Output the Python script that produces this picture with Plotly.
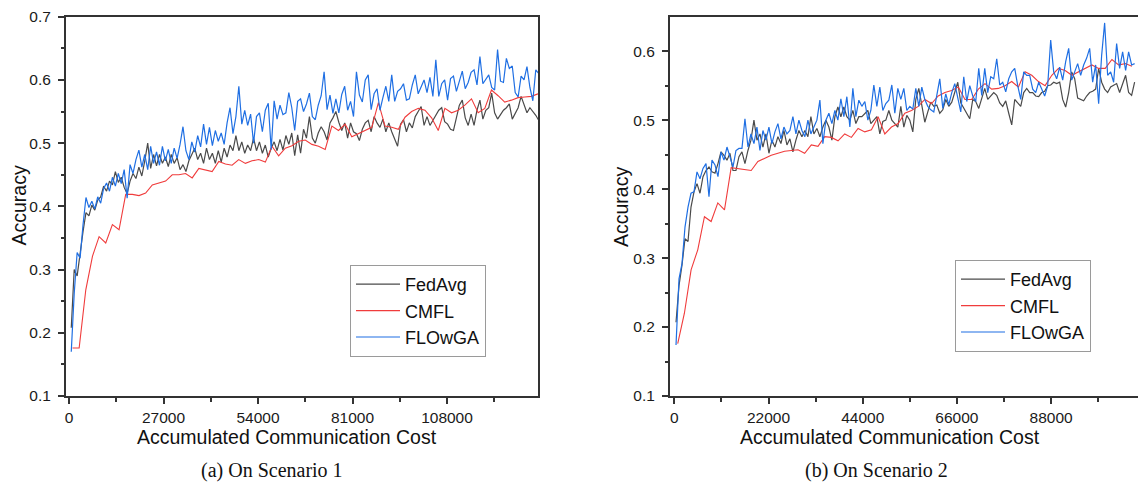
import plotly.graph_objects as go
import numpy as np

W, H = 1138, 487

# ---------------- Scenario 1 data ----------------
s1_step = 840
s1_start = 650
s1_fedavg = [
    0.208, 0.300, 0.290, 0.330, 0.360, 0.390, 0.385, 0.402, 0.394, 0.410,
    0.415, 0.432, 0.424, 0.440, 0.434, 0.455, 0.438, 0.446, 0.430, 0.420,
    0.440, 0.452, 0.444, 0.462, 0.448, 0.472, 0.500, 0.460, 0.482, 0.464,
    0.482, 0.468, 0.478, 0.463, 0.482, 0.468, 0.477, 0.458, 0.466, 0.455,
    0.472, 0.482, 0.492, 0.474, 0.484, 0.468, 0.492, 0.474, 0.484, 0.468,
    0.488, 0.470, 0.492, 0.478, 0.497, 0.488, 0.512, 0.488, 0.502, 0.484,
    0.497, 0.488, 0.508, 0.488, 0.502, 0.484, 0.497, 0.478, 0.492, 0.502,
    0.488, 0.506, 0.489, 0.512, 0.498, 0.516, 0.480, 0.513, 0.484, 0.522,
    0.508, 0.542, 0.508, 0.500, 0.516, 0.526, 0.518, 0.505, 0.532, 0.540,
    0.550, 0.533, 0.520, 0.532, 0.508, 0.532, 0.518, 0.515, 0.504, 0.522,
    0.532, 0.536, 0.518, 0.542, 0.532, 0.525, 0.538, 0.518, 0.532, 0.518,
    0.506, 0.495, 0.530, 0.537, 0.518, 0.532, 0.524, 0.542, 0.550, 0.558,
    0.528, 0.542, 0.528, 0.536, 0.546, 0.552, 0.556, 0.534, 0.530, 0.522,
    0.520, 0.542, 0.560, 0.568, 0.540, 0.528, 0.546, 0.528, 0.552, 0.568,
    0.538, 0.552, 0.556, 0.579, 0.548, 0.538, 0.546, 0.552, 0.556, 0.562,
    0.538, 0.546, 0.556, 0.574, 0.560, 0.548, 0.556, 0.550, 0.544, 0.536,
]
s1_flowga = [
    0.170, 0.262, 0.327, 0.318, 0.371, 0.414, 0.398, 0.408, 0.396, 0.415,
    0.405, 0.428, 0.437, 0.424, 0.446, 0.432, 0.452, 0.436, 0.458, 0.413,
    0.466, 0.452, 0.474, 0.489, 0.462, 0.482, 0.458, 0.495, 0.468, 0.486,
    0.465, 0.495, 0.472, 0.490, 0.468, 0.492, 0.476, 0.498, 0.526, 0.488,
    0.474, 0.502, 0.486, 0.512, 0.494, 0.530, 0.498, 0.525, 0.496, 0.520,
    0.503, 0.516, 0.498, 0.532, 0.556, 0.515, 0.542, 0.590, 0.530, 0.552,
    0.528, 0.546, 0.500, 0.542, 0.548, 0.518, 0.552, 0.563, 0.490, 0.567,
    0.538, 0.560, 0.545, 0.548, 0.580, 0.556, 0.520, 0.566, 0.570, 0.550,
    0.562, 0.579, 0.542, 0.537, 0.560, 0.575, 0.613, 0.553, 0.576, 0.547,
    0.570, 0.548, 0.577, 0.590, 0.552, 0.566, 0.542, 0.613, 0.576, 0.565,
    0.600, 0.608, 0.553, 0.578, 0.586, 0.552, 0.572, 0.590, 0.566, 0.608,
    0.566, 0.582, 0.586, 0.594, 0.568, 0.570, 0.592, 0.608, 0.578, 0.590,
    0.600, 0.580, 0.604, 0.574, 0.632, 0.574, 0.594, 0.600, 0.568, 0.602,
    0.606, 0.582, 0.600, 0.614, 0.586, 0.596, 0.612, 0.616, 0.592, 0.637,
    0.594, 0.602, 0.608, 0.588, 0.584, 0.648, 0.598, 0.596, 0.634, 0.618,
    0.622, 0.580, 0.573, 0.606, 0.600, 0.621, 0.588, 0.567, 0.616, 0.610,
]
s1_cmfl_step = 1900
s1_cmfl_start = 1000
s1_cmfl = [
    0.176, 0.176, 0.268, 0.321, 0.352, 0.342, 0.371, 0.363, 0.419, 0.419,
    0.417, 0.421, 0.434, 0.437, 0.440, 0.450, 0.450, 0.452, 0.445, 0.460,
    0.457, 0.455, 0.471, 0.467, 0.465, 0.474, 0.468, 0.472, 0.474, 0.470,
    0.495, 0.480, 0.492, 0.496, 0.503, 0.505, 0.498, 0.495, 0.490, 0.527,
    0.520, 0.530, 0.510, 0.515, 0.520, 0.525, 0.564, 0.527, 0.525, 0.522,
    0.541, 0.550, 0.555, 0.552, 0.540, 0.520, 0.555, 0.548, 0.552, 0.560,
    0.570, 0.548, 0.555, 0.584, 0.575, 0.565, 0.568, 0.572, 0.573, 0.574,
    0.578,
]

# ---------------- Scenario 2 data ----------------
s2_step = 700
s2_start = 400
s2_fedavg = [
    0.207, 0.260, 0.290, 0.328, 0.324, 0.374, 0.396, 0.408, 0.394, 0.418,
    0.427, 0.432, 0.425, 0.423, 0.437, 0.454, 0.449, 0.442, 0.452, 0.427,
    0.427, 0.447, 0.454, 0.437, 0.456, 0.471, 0.500, 0.471, 0.480, 0.461,
    0.480, 0.452, 0.471, 0.461, 0.476, 0.466, 0.485, 0.464, 0.473, 0.454,
    0.471, 0.485, 0.476, 0.485, 0.476, 0.505, 0.480, 0.488, 0.476, 0.490,
    0.500, 0.490, 0.471, 0.505, 0.519, 0.505, 0.519, 0.505, 0.500, 0.514,
    0.495, 0.505, 0.505, 0.510, 0.514, 0.495, 0.500, 0.505, 0.480, 0.498,
    0.500, 0.514, 0.500, 0.495, 0.490, 0.520, 0.490, 0.507, 0.500, 0.483,
    0.530, 0.546, 0.520, 0.497, 0.512, 0.526, 0.520, 0.522, 0.510, 0.515,
    0.530, 0.520, 0.526, 0.540, 0.555, 0.525, 0.517, 0.510, 0.502, 0.530,
    0.527, 0.517, 0.530, 0.546, 0.530, 0.535, 0.540, 0.536, 0.525, 0.520,
    0.528, 0.510, 0.493, 0.530, 0.525, 0.520, 0.540, 0.546, 0.540, 0.540,
    0.535, 0.534, 0.540, 0.542, 0.550, 0.551, 0.555, 0.553, 0.555, 0.530,
    0.519, 0.540, 0.570, 0.560, 0.532, 0.530, 0.528, 0.535, 0.540, 0.542,
    0.545, 0.575, 0.555, 0.545, 0.540, 0.548, 0.550, 0.553, 0.540, 0.552,
    0.565, 0.540, 0.536, 0.555,
]
s2_flowga = [
    0.174, 0.270, 0.292, 0.345, 0.374, 0.394, 0.396, 0.425, 0.415, 0.430,
    0.437, 0.389, 0.442, 0.435, 0.418, 0.454, 0.442, 0.461, 0.447, 0.432,
    0.456, 0.459, 0.459, 0.502, 0.461, 0.480, 0.466, 0.490, 0.456, 0.485,
    0.471, 0.490, 0.466, 0.483, 0.495, 0.473, 0.490, 0.480, 0.485, 0.505,
    0.480, 0.500, 0.485, 0.476, 0.500, 0.480, 0.490, 0.500, 0.529, 0.466,
    0.500, 0.510, 0.495, 0.514, 0.500, 0.531, 0.505, 0.534, 0.490, 0.546,
    0.505, 0.529, 0.520, 0.527, 0.500, 0.514, 0.551, 0.520, 0.548, 0.514,
    0.524, 0.529, 0.551, 0.510, 0.546, 0.530, 0.546, 0.514, 0.520, 0.516,
    0.546, 0.520, 0.548, 0.530, 0.520, 0.515, 0.512, 0.536, 0.560, 0.517,
    0.538, 0.522, 0.540, 0.553, 0.530, 0.512, 0.563, 0.527, 0.550, 0.535,
    0.527, 0.575, 0.536, 0.575, 0.540, 0.563, 0.560, 0.589, 0.551, 0.555,
    0.541, 0.560, 0.570, 0.575, 0.550, 0.530, 0.570, 0.565, 0.565, 0.545,
    0.540, 0.555, 0.545, 0.535, 0.550, 0.616, 0.570, 0.560, 0.577, 0.558,
    0.585, 0.604, 0.558, 0.570, 0.582, 0.565, 0.580, 0.590, 0.604, 0.555,
    0.580, 0.524, 0.594, 0.641, 0.565, 0.570, 0.555, 0.611, 0.575, 0.599,
    0.572, 0.599, 0.580, 0.582,
]
s2_cmfl_step = 1560
s2_cmfl_start = 800
s2_cmfl = [
    0.176, 0.220, 0.283, 0.312, 0.360, 0.353, 0.380, 0.370, 0.431, 0.430,
    0.429, 0.427, 0.440, 0.445, 0.449, 0.452, 0.455, 0.456, 0.457, 0.452,
    0.464, 0.462, 0.476, 0.475, 0.470, 0.480, 0.475, 0.488, 0.483, 0.486,
    0.505, 0.480, 0.490, 0.495, 0.510, 0.514, 0.520, 0.530, 0.524, 0.535,
    0.540, 0.543, 0.548, 0.530, 0.530, 0.545, 0.553, 0.545, 0.546, 0.550,
    0.556, 0.548, 0.570, 0.565, 0.556, 0.550, 0.565, 0.575, 0.572, 0.565,
    0.570, 0.575, 0.580, 0.575, 0.575, 0.588, 0.580, 0.582, 0.578,
]

s1_xticks = [0, 27000, 54000, 81000, 108000]
s2_xticks = [0, 22000, 44000, 66000, 88000]
yticks = [0.1, 0.2, 0.3, 0.4, 0.5, 0.6, 0.7]

names = ["FedAvg", "CMFL", "FLOwGA"]
colors = {"FedAvg": "#4a4a4a", "CMFL": "#f03c3c", "FLOwGA": "#1f6fe3"}


def xs(start, step, n):
    return [start + step * k for k in range(n)]


FONT = "Liberation Sans, Arial, sans-serif"
SERIF = "Liberation Serif, Times New Roman, serif"

fig = go.Figure()

series = [
    ("x", "y", "legend", s1_fedavg, s1_cmfl, s1_flowga,
     (s1_start, s1_step), (s1_cmfl_start, s1_cmfl_step)),
    ("x2", "y2", "legend2", s2_fedavg, s2_cmfl, s2_flowga,
     (s2_start, s2_step), (s2_cmfl_start, s2_cmfl_step)),
]
for xa, ya, lg, fa, cm, fl, (st, sp), (cst, csp) in series:
    fig.add_trace(go.Scatter(x=xs(st, sp, len(fa)), y=fa, mode="lines", name="FedAvg",
                             line=dict(color=colors["FedAvg"], width=1.2),
                             xaxis=xa, yaxis=ya, legend=lg))
    fig.add_trace(go.Scatter(x=xs(cst, csp, len(cm)), y=cm, mode="lines", name="CMFL",
                             line=dict(color=colors["CMFL"], width=1.1),
                             xaxis=xa, yaxis=ya, legend=lg))
    fig.add_trace(go.Scatter(x=xs(st, sp, len(fl)), y=fl, mode="lines", name="FLOwGA",
                             line=dict(color=colors["FLOwGA"], width=1.2),
                             xaxis=xa, yaxis=ya, legend=lg))

AX = "#333333"
common_axis = dict(showline=True, linecolor=AX, linewidth=2, ticks="outside",
                   ticklen=6, tickwidth=1.5, tickcolor=AX, showgrid=False,
                   zeroline=False, automargin=False,
                   tickfont=dict(family=FONT, size=15.5, color="#1a1a1a"))

ytop = 1 - 16.7 / H
ybot = 1 - 396 / H

legend_style = dict(xanchor="left", yanchor="top", bgcolor="white",
                    bordercolor="#9a9a9a", borderwidth=1, itemwidth=44,
                    font=dict(family=FONT, size=18, color="#111"), tracegroupgap=0)

fig.update_layout(
    width=W, height=H, autosize=False,
    margin=dict(l=0, r=0, t=0, b=0),
    paper_bgcolor="white", plot_bgcolor="white",
    font=dict(family=FONT),
    xaxis=dict(domain=[66 / W, 538 / W], anchor="y", range=[-857, 134000],
               tickvals=s1_xticks, ticktext=[str(v) for v in s1_xticks], mirror=True,
               minor=dict(tickvals=[13500, 40500, 67500, 94500, 121500], ticklen=3.5,
                          tickwidth=1.5, tickcolor=AX, ticks="outside"),
               **common_axis),
    yaxis=dict(domain=[ybot, ytop], anchor="x", range=[0.1, 0.7],
               tickvals=yticks, ticktext=["0.1", "0.2", "0.3", "0.4", "0.5", "0.6", "0.7"],
               mirror=True, ticklabelstandoff=4,
               minor=dict(tickvals=[0.15, 0.25, 0.35, 0.45, 0.55, 0.65], ticklen=3.5,
                          tickwidth=1.5, tickcolor=AX, ticks="outside"),
               **common_axis),
    xaxis2=dict(domain=[670 / W, 1.0], anchor="y2", range=[-1004, 108290],
                tickvals=s2_xticks, ticktext=[str(v) for v in s2_xticks], mirror=True,
                minor=dict(tickvals=[11000, 33000, 55000, 77000, 99000], ticklen=3.5,
                           tickwidth=1.5, tickcolor=AX, ticks="outside"),
                **common_axis),
    yaxis2=dict(domain=[ybot, ytop], anchor="x2", range=[0.1, 0.65],
                tickvals=yticks[:6], ticktext=["0.1", "0.2", "0.3", "0.4", "0.5", "0.6"],
                mirror=False, ticklabelstandoff=4,
                minor=dict(tickvals=[0.15, 0.25, 0.35, 0.45, 0.55], ticklen=3.5,
                           tickwidth=1.5, tickcolor=AX, ticks="outside"),
                **common_axis),
    legend=dict(x=350 / W, y=1 - 265 / H, **legend_style),
    legend2=dict(x=955 / W, y=1 - 260 / H, **legend_style),
)

ann = []
def add_text(text, px, py, size, family=FONT, angle=0):
    ann.append(dict(text=text, x=px / W, y=1 - py / H, xref="paper", yref="paper",
                    showarrow=False, xanchor="center", yanchor="middle",
                    textangle=angle, font=dict(family=family, size=size, color="#111")))

add_text("Accuracy", 18.5, 206, 19.5, angle=-90)
add_text("Accuracy", 621, 207, 19.5, angle=-90)
add_text("Accumulated Communication Cost", 286.5, 437, 19.5)
add_text("Accumulated Communication Cost", 890, 437, 19.5)
add_text("(a) On Scenario 1", 271.5, 470, 20, family=SERIF)
add_text("(b) On Scenario 2", 876, 470, 20, family=SERIF)
fig.update_layout(annotations=ann)

fig.write_html("out.html")
